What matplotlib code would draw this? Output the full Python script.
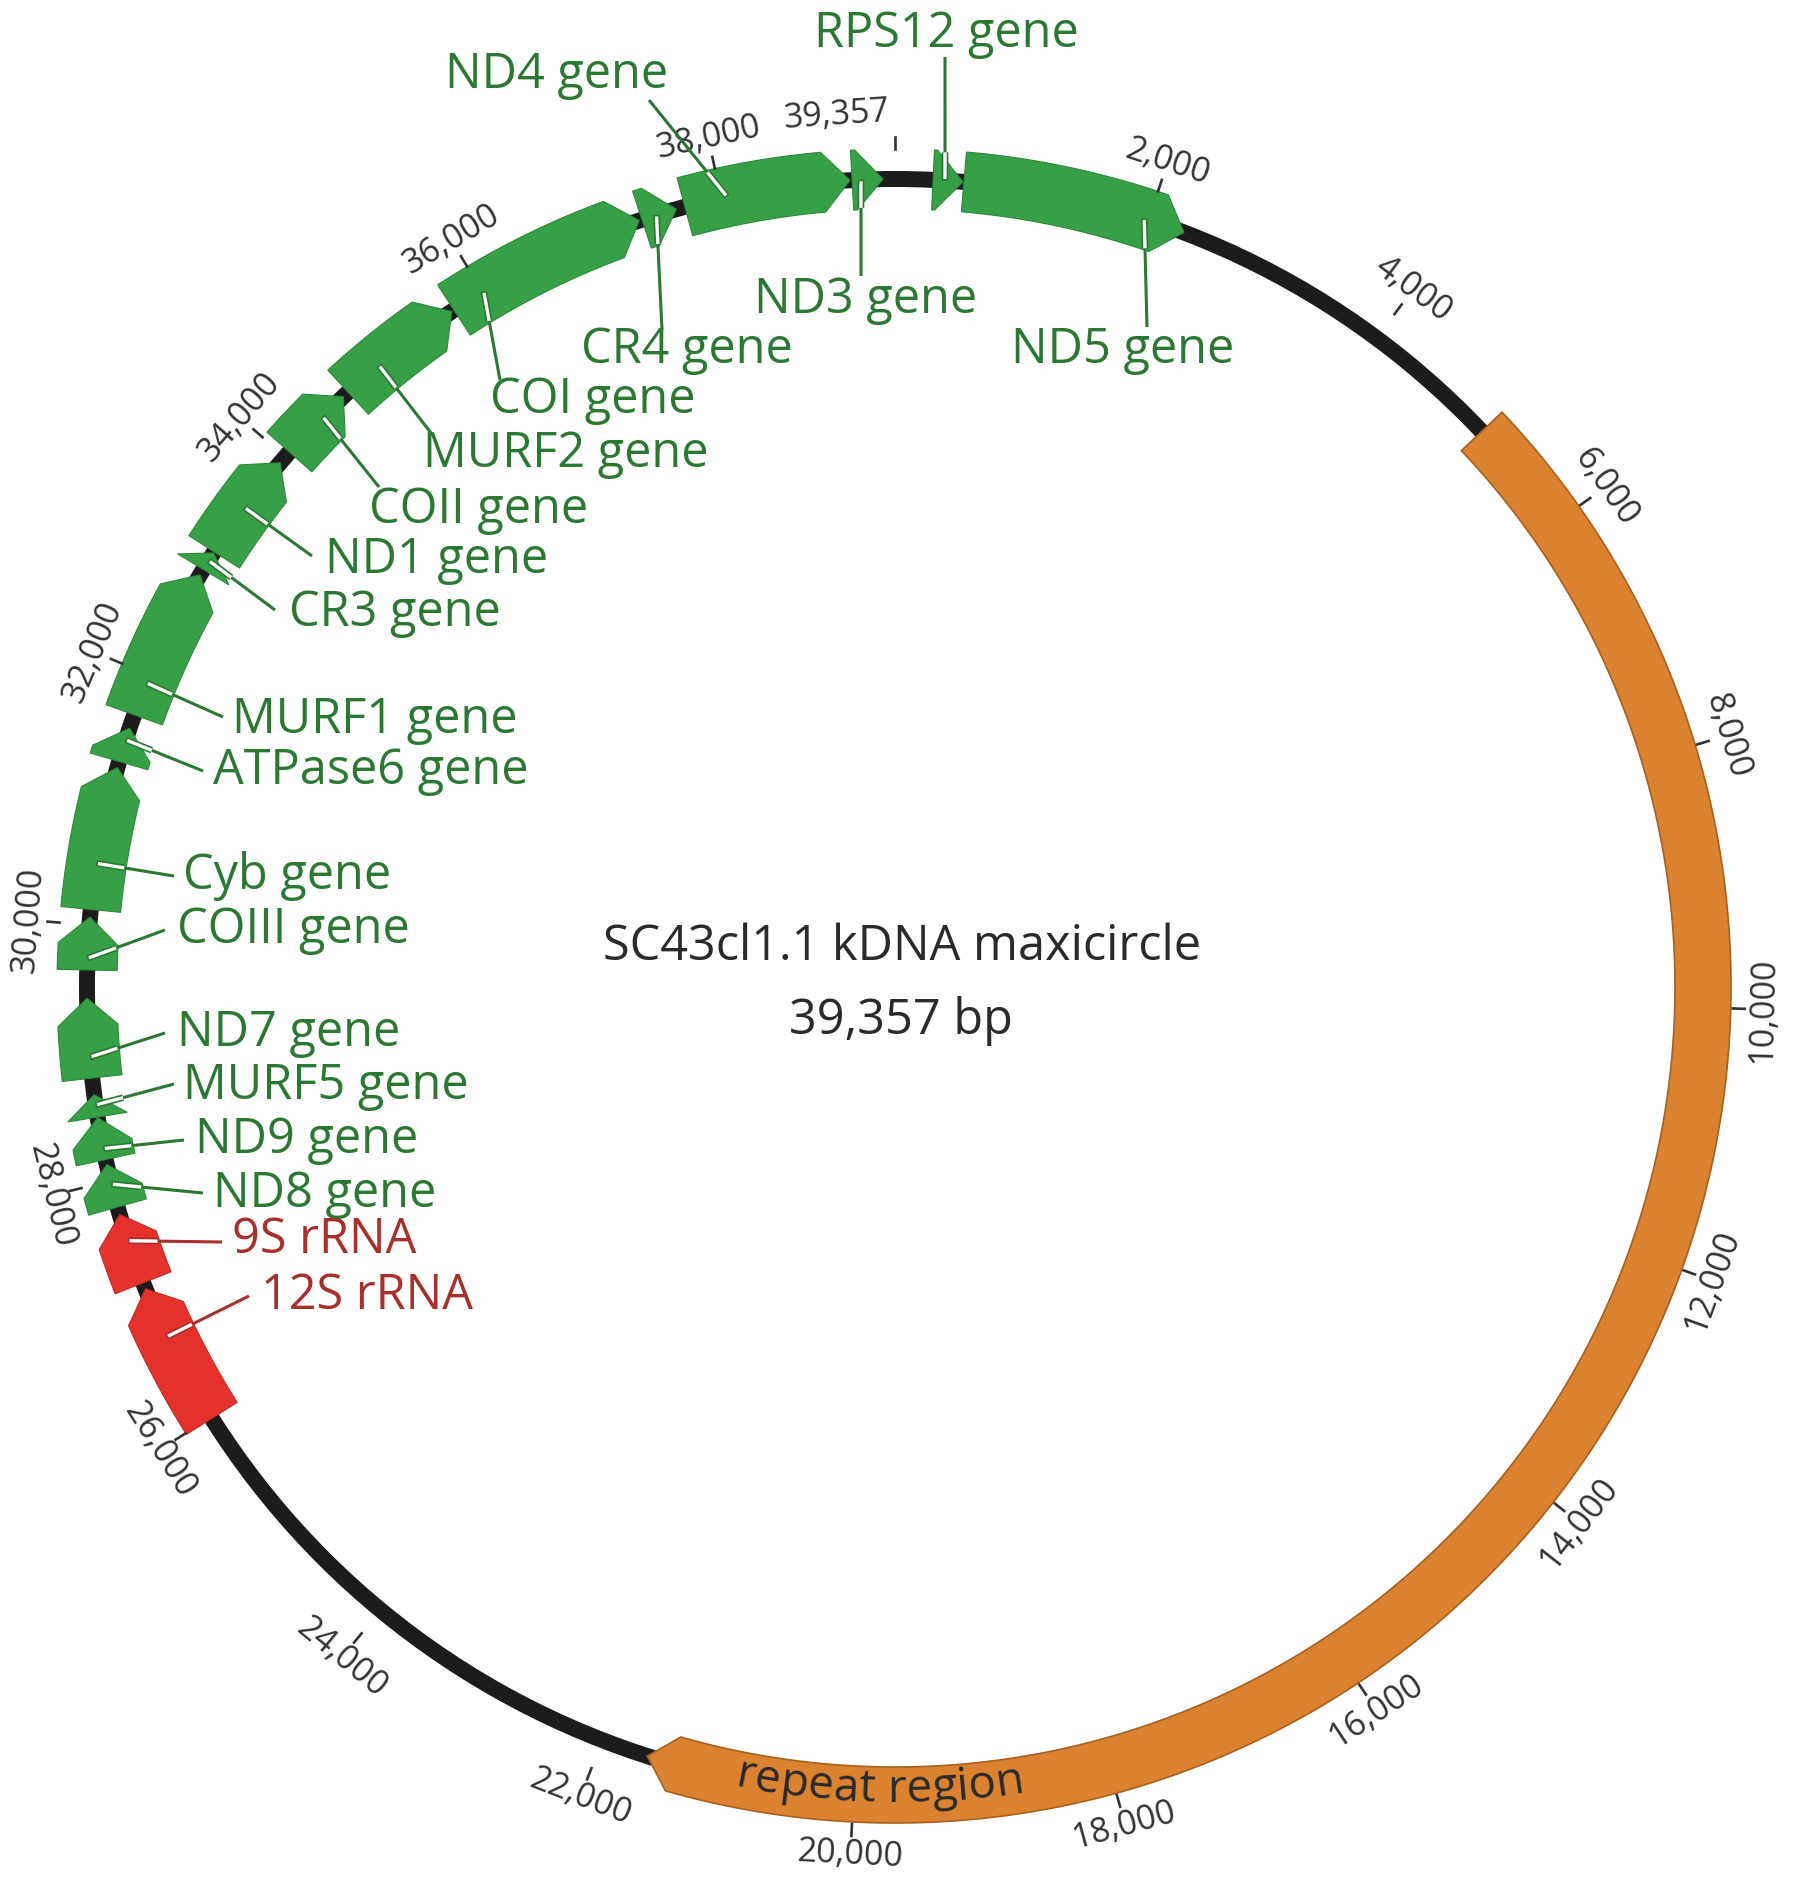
import numpy as np
import matplotlib
matplotlib.use("Agg")
import matplotlib.pyplot as plt
from matplotlib.patches import Polygon, Circle
from matplotlib.font_manager import FontProperties
from matplotlib.textpath import TextToPath

plt.rcParams["font.family"] = ["Open Sans", "DejaVu Sans"]

# ---- data ----
seq_len = 39357
title = "SC43cl1.1 kDNA maxicircle"
subtitle = "39,357 bp"

gene_names = ["ND5 gene", "RPS12 gene", "ND3 gene", "ND4 gene", "CR4 gene",
              "COI gene", "MURF2 gene", "COII gene", "ND1 gene", "CR3 gene",
              "MURF1 gene", "ATPase6 gene", "Cyb gene", "COIII gene", "ND7 gene",
              "MURF5 gene", "ND9 gene", "ND8 gene", "9S rRNA", "12S rRNA"]
gene_start = [535, 295, 39024, 37709, 37362, 35740, 34700, 34050, 33080, 32920,
              31670, 31290, 30120, 29650, 28810, 28505, 28170, 27790, 27170, 25990]
gene_end = [2291, 528, 39264, 39008, 37640, 37340, 35720, 34650, 33940, 33070,
            32870, 31560, 31240, 30060, 29430, 28680, 28500, 28130, 27730, 27120]
gene_kind = ["gene"] * 18 + ["rRNA"] * 2
# position (bp) where each label's leader line starts inside its feature
label_bp = [1964, 388, 39093, 38045, 37480, 36012, 35017, 34427, 33497, 33000,
            31935, 31465, 30480, 29740, 28974, 28600, 28256, 27974, 27517, 26713]

repeat_name = "repeat region"
repeat_start = 5090
repeat_end = 21630

tick_values = [2000, 4000, 6000, 8000, 10000, 12000, 14000, 16000, 18000, 20000,
               22000, 24000, 26000, 28000, 30000, 32000, 34000, 36000, 38000]
tick_labels = ["2,000", "4,000", "6,000", "8,000", "10,000", "12,000", "14,000",
               "16,000", "18,000", "20,000", "22,000", "24,000", "26,000", "28,000",
               "30,000", "32,000", "34,000", "36,000", "38,000"]

# ---- layout (pixels) ----
cx, cy, R = 895, 987, 808
half_w = 30
head_px = 27
label_text_xy = [(1011, 350), (814, 34), (754, 300), (445, 75), (581, 350),
                 (490, 400), (423, 454), (369, 510), (325, 560), (289, 613),
                 (232, 720), (213, 771), (183, 876), (177, 930), (177, 1033),
                 (183, 1086), (195, 1140), (213, 1194), (232, 1240), (261, 1296)]
leader_end_xy = [(1147, 327), (945, 57), (861, 276), (649, 100), (662, 330),
                 (500, 380), (431, 433), (379, 487), (312, 556), (275, 610),
                 (223, 717), (203, 771), (174, 876), (165, 930), (165, 1033),
                 (174, 1084), (184, 1140), (203, 1193), (222, 1242), (249, 1296)]

fill = {"gene": "#37a047", "rRNA": "#e5312b", "repeat": "#da8230"}
edge = {"gene": "#2b8a3a", "rRNA": "#c42a24", "repeat": "#a8601f"}
text_col = {"gene": "#2b7833", "rRNA": "#a8302c"}
dark = "#2a2a2a"


def polar(bp, r):
    th = np.deg2rad(np.asarray(bp, dtype=float) / seq_len * 360.0)
    return cx + r * np.sin(th), cy - r * np.cos(th)


def arrow_points(s, e, hw):
    circ = 2 * np.pi * R
    length = (e - s) / seq_len * circ
    h = min(head_px, length)
    eb = e - h / circ * seq_len
    n = max(2, int((eb - s) / 15) + 2)
    b = np.linspace(s, eb, n)
    ox, oy = polar(b, R + hw)
    ix, iy = polar(b[::-1], R - hw)
    tx, ty = polar(e, R)
    xs = np.concatenate([ox, [tx], ix])
    ys = np.concatenate([oy, [ty], iy])
    return np.column_stack([xs, ys])


fig = plt.figure(figsize=(18, 18.86), dpi=100)
fig.patch.set_facecolor("#fefefe")
ax = fig.add_axes([0, 0, 1, 1])
ax.set_xlim(0, 1800)
ax.set_ylim(1886, 0)
ax.axis("off")

# backbone
ax.add_patch(Circle((cx, cy), R, fill=False, lw=16 * 0.72, color="#1c1c1c", zorder=1))

# repeat region
ax.add_patch(Polygon(arrow_points(repeat_start, repeat_end, 28), closed=True,
                     facecolor=fill["repeat"], edgecolor=edge["repeat"], lw=1.2, zorder=2))

# genes
for s, e, k in zip(gene_start, gene_end, gene_kind):
    ax.add_patch(Polygon(arrow_points(s, e, half_w), closed=True,
                         facecolor=fill[k], edgecolor=edge[k], lw=0.8, zorder=3))

# ticks and tick labels
for v, lab in zip(tick_values, tick_labels):
    x0, y0 = polar(v, 838)
    x1, y1 = polar(v, 850)
    ax.plot([x0, x1], [y0, y1], color="#333333", lw=1.9, zorder=4)
    th = v / seq_len * 360.0
    rot = (-th) % 180
    if rot > 90:
        rot -= 180
    lx, ly = polar(v, 869)
    ax.text(lx, ly, lab, fontsize=24.5, color="#333333", ha="center", va="center",
            rotation=rot, rotation_mode="anchor", zorder=4)

# origin tick
x0, y0 = polar(0, 838)
x1, y1 = polar(0, 850)
ax.plot([x0, x1], [y0, y1], color="#333333", lw=1.9, zorder=4)
lx, ly = polar(-420, 874)
ax.text(lx, ly, f"{seq_len:,}", fontsize=24.5, color="#333333", ha="center", va="center",
        rotation=3.9, rotation_mode="anchor", zorder=4)

# gene labels with leader lines
for name, k, bp, txy, lend in zip(gene_names, gene_kind, label_bp, label_text_xy, leader_end_xy):
    c = text_col[k]
    ax_, ay_ = polar(bp, R)
    ex, ey = lend
    t = np.linspace(0, 1, 600)
    px = ax_ + t * (ex - ax_)
    py = ay_ + t * (ey - ay_)
    rr = np.hypot(px - cx, py - cy)
    outside = np.abs(rr - R) > half_w - 2
    kx = np.argmax(outside)
    ax.plot([ax_, ex], [ay_, ey], color=c, lw=2.2, solid_capstyle="butt", zorder=5)
    # hollow part inside the feature
    d = np.hypot(px[kx] - ax_, py[kx] - ay_)
    ux, uy = (px[kx] - ax_) / d, (py[kx] - ay_) / d
    ax.plot([ax_, px[kx]], [ay_, py[kx]], color=c, lw=4.8, solid_capstyle="butt", zorder=6)
    ax.plot([ax_ + 1.5 * ux, px[kx]], [ay_ + 1.5 * uy, py[kx]], color="white", lw=2.4,
            solid_capstyle="butt", zorder=7)
    ax.text(txy[0], txy[1], name, fontsize=35, color=c, ha="left", va="center", zorder=8)

# curved label on the repeat region
fp = FontProperties(family=["Open Sans", "DejaVu Sans"], size=33)
t2p = TextToPath()


def width_px(s):
    w, h, d = t2p.get_text_width_height_descent(s, fp, ismath=False)
    return w * 100 / 72


total_w = width_px(repeat_name)
r_text = 803
theta0 = 181.1
for i, ch in enumerate(repeat_name):
    if ch == " ":
        continue
    centre = width_px(repeat_name[:i + 1]) - width_px(ch) / 2 - total_w / 2
    th = theta0 - np.rad2deg(centre / r_text)
    x, y = polar(th / 360 * seq_len, r_text)
    ax.text(x, y, ch, fontproperties=fp, color=dark, ha="center", va="center",
            rotation=180 - th, rotation_mode="anchor", zorder=8)

# centre title
ax.text(902, 947, title, fontsize=35, color=dark, ha="center", va="center")
ax.text(901, 1021, subtitle, fontsize=35, color=dark, ha="center", va="center")

fig.savefig("out.png", dpi=100, facecolor=fig.get_facecolor())
